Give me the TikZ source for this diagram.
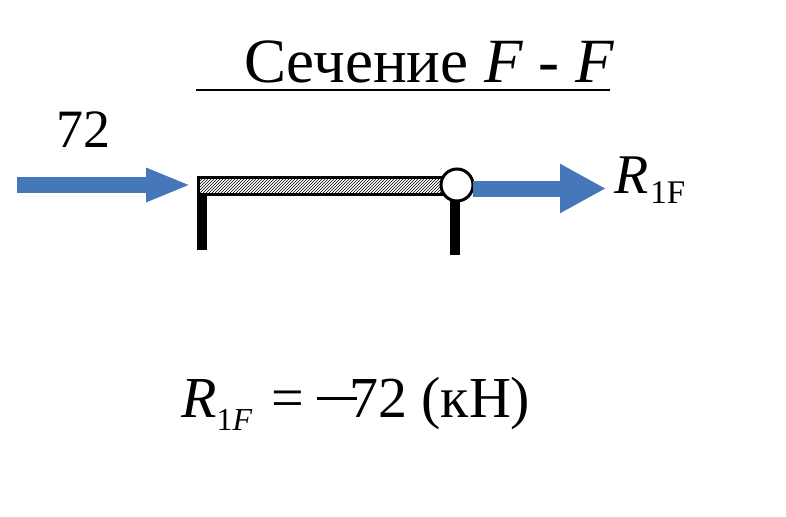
\documentclass[tikz,border=0pt]{standalone}
\usepackage{fontspec}
\setmainfont{Liberation Serif}
\usetikzlibrary{patterns,arrows.meta}
\definecolor{arrowblue}{RGB}{70,120,185}
\tikzset{
	force/.style={draw=arrowblue, line width=16pt},
	post/.style={line width=10pt, black},
	txt/.style={inner sep=0pt, anchor=base west},
}
\begin{document}
\begin{tikzpicture}[x=1pt,y=-1pt]
	\useasboundingbox (0,0) rectangle (786,516);
	\node [txt, font=\fontsize{63}{63}\selectfont] (title) at (244,83) {Сечение \textit{F} - \textit{F}};
	\coordinate (ruleL) at (196,90);
	\coordinate (ruleR) at (610,90);
	\draw [line width=2pt] (ruleL) -- (ruleR);
	\node [txt, font=\fontsize{54}{54}\selectfont] (load) at (56,147) {72};
	\fill [pattern=north east lines] (198,177) rectangle (456,194);
	\draw [line width=3pt] (198,177.5) rectangle (456,194);
	\coordinate (postAt) at (202,194);
	\coordinate (postAb) at (202,250);
	\coordinate (postBt) at (455,194);
	\coordinate (postBb) at (455,255);
	\draw [post] (postAt) -- (postAb);
	\draw [post] (postBt) -- (postBb);
	\node [circle, draw, fill=white, line width=3pt, minimum size=32pt, inner sep=0pt] (hinge) at (457,185) {};
	\coordinate (loadS) at (17,185);
	\coordinate (loadE) at (191,185);
	\draw [force, -{Triangle[length=45pt,width=31pt]}] (loadS) -- (loadE);
	\coordinate (reactS) at (473,188.5);
	\coordinate (reactE) at (606,188.5);
	\draw [force, -{Triangle[length=46pt,width=46pt]}] (reactS) -- (reactE);
	\node [txt, font=\fontsize{56}{56}\selectfont] (react) at (614,193) {\textit{R}\hspace{2pt}\fontsize{33}{33}\selectfont\raisebox{-10pt}{1F}};
	\node [txt, font=\fontsize{58}{58}\selectfont] (result) at (181,417) {\textit{R}{\fontsize{32}{32}\selectfont\raisebox{-13pt}{1\textit{F}}}\hspace{19pt}=\hspace{13pt}\rule[17pt]{40pt}{3pt}\hspace{-8pt}72 (кН)};
\end{tikzpicture}
\end{document}
